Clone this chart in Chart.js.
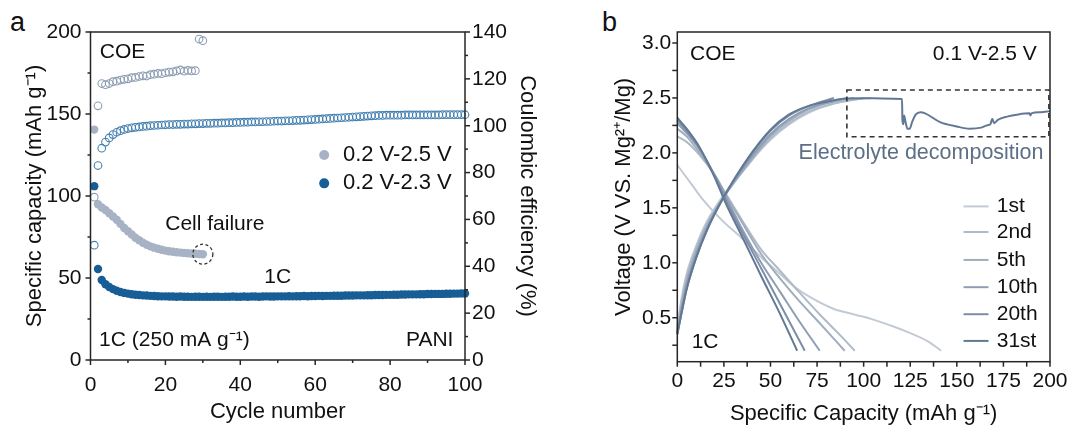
<!DOCTYPE html>
<html><head><meta charset="utf-8">
<script src="https://cdn.jsdelivr.net/npm/chart.js@4.4.1/dist/chart.umd.min.js"></script>
<style>
html,body{margin:0;padding:0;background:#fff;}
body{width:1069px;height:428px;position:relative;overflow:hidden;font-family:'Liberation Sans',Arial,sans-serif;}
.box{position:absolute;top:0;height:428px;}
#boxA{left:0;width:585px;}
#boxB{left:585px;width:484px;}
.plab{position:absolute;font-size:27px;color:#111;line-height:1;}
</style></head><body>
<div class="plab" style="left:10px;top:9px">a</div>
<div class="plab" style="left:602px;top:9px">b</div>
<div class="box" id="boxA"><canvas id="chartA"></canvas></div>
<div class="box" id="boxB"><canvas id="chartB"></canvas></div>
<script>
// ---------------- Panel a data ----------------
const capGrey = [140.5, 95, 93, 91.5, 89.5, 87.5, 85.5, 83, 80.5, 78.5,
  76.5, 74.5, 73, 71.5, 70.3, 69.3, 68.5, 67.8, 67.2, 66.7,
  66.3, 66, 65.7, 65.5, 65.3, 65.1, 64.9, 64.8, 64.6, 64.5];
const ceGrey = [69.5, 108.5, 118, 117.5, 118, 118.8, 119, 119.5, 119.8, 120,
  120.5, 120.6, 121, 121.3, 121.2, 121.8, 122, 122.3, 122.2, 122.6,
  122.9, 123, 123.4, 123.8, 123.3, 123.6, 123.4, 123.5, 137, 136.3];
const capBlue = [106, 55.5, 48.8, 46.2, 44.5, 43.2, 42.2, 41.5, 40.9, 40.5,
  40.1, 39.8, 39.6, 39.4, 39.3, 39.1, 39.0, 38.9, 38.8, 38.8,
  38.7, 38.7, 38.6, 38.7, 38.6, 38.6, 38.5, 38.6, 38.6, 38.5,
  38.6, 38.5, 38.6, 38.6, 38.5, 38.6, 38.6, 38.7, 38.6, 38.6,
  38.7, 38.6, 38.7, 38.7, 38.6, 38.7, 38.8, 38.7, 38.7, 38.8,
  38.8, 38.8, 38.9, 38.8, 38.9, 38.9, 39.0, 38.9, 39.0, 39.0,
  39.1, 39.0, 39.1, 39.1, 39.2, 39.2, 39.2, 39.3, 39.3, 39.3,
  39.4, 39.4, 39.4, 39.5, 39.5, 39.6, 39.6, 39.6, 39.7, 39.7,
  39.8, 39.8, 39.9, 39.9, 40.0, 40.0, 40.0, 40.1, 40.1, 40.2,
  40.2, 40.3, 40.3, 40.3, 40.4, 40.4, 40.5, 40.5, 40.6, 40.6];
const ceBlue = [49, 83, 90.4, 93, 94.8, 96.2, 97.2, 97.9, 98.4, 98.8,
  99.1, 99.3, 99.5, 99.7, 99.8, 100, 100.1, 100.2, 100.3, 100.4,
  100.5, 100.5, 100.6, 100.6, 100.7, 100.7, 100.8, 100.8, 100.9, 100.9,
  101.0, 101.0, 101.1, 101.1, 101.2, 101.2, 101.3, 101.3, 101.4, 101.4,
  101.5, 101.5, 101.6, 101.6, 101.7, 101.7, 101.8, 101.8, 101.9, 102.0,
  102.0, 102.1, 102.1, 102.2, 102.3, 102.3, 102.4, 102.5, 102.6, 102.7,
  102.8, 102.9, 103.0, 103.1, 103.2, 103.3, 103.4, 103.5, 103.6, 103.7,
  103.8, 103.9, 104.0, 104.1, 104.2, 104.3, 104.4, 104.4, 104.5, 104.5,
  104.5, 104.5, 104.5, 104.6, 104.6, 104.6, 104.6, 104.6, 104.6, 104.6,
  104.6, 104.6, 104.6, 104.7, 104.7, 104.7, 104.7, 104.7, 104.7, 104.7];
const aXTicks = [0, 20, 40, 60, 80, 100];
const aXMinor = [10, 30, 50, 70, 90];
const aYTicks = [0, 50, 100, 150, 200];
const aYMinor = [25, 75, 125, 175];
const aY2Ticks = [0, 20, 40, 60, 80, 100, 120, 140];
const aY2Minor = [10, 30, 50, 70, 90, 110, 130];

// ---------------- Panel b data ----------------
const cycleNames = ['1st', '2nd', '5th', '10th', '20th', '31st'];
const dis1Cap = [0, 7, 14, 25, 33, 45, 55, 63, 72, 84, 95, 104, 116, 125, 134, 141.6];
const dis1V   = [1.89, 1.73, 1.57, 1.37, 1.25, 1.05, 0.9, 0.78, 0.68, 0.58, 0.53, 0.49, 0.42, 0.36, 0.29, 0.2];
const dis2Cap = [0, 5, 12, 20, 26, 35, 45, 55, 65, 77, 88, 95.2];
const dis2V   = [2.15, 2.1, 1.98, 1.8, 1.63, 1.38, 1.12, 0.93, 0.74, 0.52, 0.33, 0.2];
const dis5Cap = [0, 5, 12, 20, 26, 35, 45, 55, 65, 77, 89.8];
const dis5V   = [2.22, 2.15, 2.0, 1.8, 1.62, 1.36, 1.08, 0.86, 0.66, 0.44, 0.2];
const dis10Cap = [0, 5, 12, 20, 26, 35, 45, 55, 65, 76.4];
const dis10V   = [2.27, 2.18, 2.03, 1.8, 1.6, 1.3, 1.0, 0.74, 0.48, 0.2];
const dis20Cap = [0, 5, 12, 20, 26, 35, 45, 55, 68.4];
const dis20V   = [2.3, 2.2, 2.04, 1.79, 1.57, 1.27, 0.95, 0.63, 0.2];
const dis31Cap = [0, 5, 12, 20, 26, 35, 45, 55, 64.3];
const dis31V   = [2.32, 2.22, 2.05, 1.78, 1.54, 1.23, 0.88, 0.54, 0.2];
const chg1Cap = [0, 2, 5, 10, 16, 25, 37, 50, 60, 71, 84, 97, 104];
const chg1V   = [0.4, 0.65, 0.9, 1.15, 1.38, 1.62, 1.88, 2.12, 2.26, 2.37, 2.45, 2.49, 2.5];
const chg2Cap = [0, 2, 5, 10, 16, 25, 37, 50, 60, 71, 84, 94, 100];
const chg2V   = [0.38, 0.62, 0.87, 1.13, 1.36, 1.6, 1.87, 2.13, 2.27, 2.38, 2.45, 2.48, 2.5];
const chg5Cap = [0, 2, 5, 10, 16, 25, 37, 50, 60, 71, 84, 95];
const chg5V   = [0.37, 0.58, 0.83, 1.1, 1.34, 1.6, 1.88, 2.15, 2.29, 2.4, 2.47, 2.5];
const chg10Cap = [0, 2, 5, 10, 16, 25, 37, 50, 60, 71, 84, 91];
const chg10V   = [0.36, 0.55, 0.8, 1.07, 1.32, 1.6, 1.9, 2.17, 2.31, 2.41, 2.47, 2.5];
const chg20Cap = [0, 2, 5, 10, 16, 25, 37, 50, 60, 71, 84];
const chg20V   = [0.35, 0.52, 0.76, 1.04, 1.3, 1.6, 1.92, 2.2, 2.34, 2.43, 2.5];
const chg31Cap = [0, 2, 5, 10, 16, 25, 37, 50, 60, 71, 84, 91, 100, 110, 120.6, 120.8, 121.3, 121.7, 122.5, 123.5, 124.7, 126, 128, 130.5, 133, 141, 150, 157, 163, 166, 168, 169, 170, 172, 177, 183, 189, 189.5, 190, 195, 200];
const chg31V   = [0.35, 0.52, 0.76, 1.04, 1.3, 1.6, 1.93, 2.21, 2.35, 2.43, 2.48, 2.495, 2.497, 2.496, 2.49, 2.3, 2.26, 2.34, 2.28, 2.22, 2.22, 2.28, 2.35, 2.37, 2.36, 2.28, 2.24, 2.22, 2.23, 2.25, 2.26, 2.31, 2.27, 2.3, 2.33, 2.35, 2.36, 2.34, 2.36, 2.37, 2.38];
const bXTicks = [0, 25, 50, 75, 100, 125, 150, 175, 200];
const bXMinor = [12.5, 37.5, 62.5, 87.5, 112.5, 137.5, 162.5, 187.5];
const bYTicks = [0.5, 1.0, 1.5, 2.0, 2.5, 3.0];
const bYMinor = [0.25, 0.75, 1.25, 1.75, 2.25, 2.75];

// ---------------- styles ----------------
const FONT = "'Liberation Sans', Arial, sans-serif";
Chart.defaults.font.family = FONT;
Chart.defaults.color = '#111';
const GREY = '#a7b3c4', GREY_O = '#8d9db2', BLUE = '#175e96', BLUE_O = '#4580b0';
const CYC_COLORS = ['#c2cad5', '#b0bbc9', '#9fadbe', '#8e9eb3', '#7c8ea7', '#627894'];
const TXT = '#111';

const pts = (xs, ys) => xs.map((x, i) => ({x: x, y: ys[i]}));
const byCycle = (arr) => arr.map((v, i) => ({x: i + 1, y: v}));

const decor = {
  id: 'decor',
  afterDraw(chart, args, o) {
    const ctx = chart.ctx, ca = chart.chartArea;
    ctx.save();
    ctx.strokeStyle = '#262626';
    ctx.lineWidth = 1.5;
    ctx.strokeRect(ca.left, ca.top, ca.right - ca.left, ca.bottom - ca.top);
    (o.ticks || []).forEach(t => {
      const s = chart.scales[t.scale];
      const draw = (vals, len) => vals.forEach(v => {
        const p = s.getPixelForValue(v);
        ctx.beginPath();
        if (t.side === 'left') { ctx.moveTo(ca.left, p); ctx.lineTo(ca.left - len, p); }
        else if (t.side === 'right') { ctx.moveTo(ca.right, p); ctx.lineTo(ca.right + len, p); }
        else { ctx.moveTo(p, ca.bottom); ctx.lineTo(p, ca.bottom + len); }
        ctx.stroke();
      });
      draw(t.major, o.majorLen);
      draw(t.minor, o.minorLen);
    });
    const xs = chart.scales.x, ys = chart.scales.y;
    (o.circles || []).forEach(c => {
      ctx.save();
      ctx.setLineDash([3, 2.5]);
      ctx.lineWidth = 1.3;
      ctx.strokeStyle = '#333';
      ctx.beginPath();
      ctx.arc(xs.getPixelForValue(c.x), ys.getPixelForValue(c.y), c.r, 0, Math.PI * 2);
      ctx.stroke();
      ctx.restore();
    });
    (o.boxes || []).forEach(b => {
      ctx.save();
      ctx.setLineDash([5, 4]);
      ctx.lineWidth = 1.6;
      ctx.strokeStyle = '#333';
      const x1 = xs.getPixelForValue(b.x1), x2 = xs.getPixelForValue(b.x2);
      const y1 = ys.getPixelForValue(b.y1), y2 = ys.getPixelForValue(b.y2);
      ctx.strokeRect(x1, y2, x2 - x1, y1 - y2);
      ctx.restore();
    });
    ctx.textBaseline = 'middle';
    (o.texts || []).forEach(t => {
      ctx.font = (t.size || 21) + 'px ' + FONT;
      ctx.fillStyle = t.color || TXT;
      ctx.textAlign = t.align || 'left';
      ctx.fillText(t.t, xs.getPixelForValue(t.x), ys.getPixelForValue(t.y));
    });
    (o.legend || []).forEach(l => {
      const ds = chart.data.datasets[l.ds];
      const py = ys.getPixelForValue(l.y);
      if (l.kind === 'point') {
        ctx.fillStyle = ds.backgroundColor;
        ctx.beginPath();
        ctx.arc(xs.getPixelForValue(l.x), py, l.r, 0, Math.PI * 2);
        ctx.fill();
      } else {
        ctx.strokeStyle = ds.borderColor;
        ctx.lineWidth = 2;
        ctx.beginPath();
        ctx.moveTo(xs.getPixelForValue(l.x), py);
        ctx.lineTo(xs.getPixelForValue(l.x2), py);
        ctx.stroke();
      }
      ctx.font = (l.size || 21) + 'px ' + FONT;
      ctx.fillStyle = TXT;
      ctx.textAlign = 'left';
      ctx.fillText(ds.label, xs.getPixelForValue(l.tx), py);
    });
    ctx.restore();
  }
};

const tickSet = (list) => (s) => { s.ticks = list.map(v => ({value: v})); };

// ---------------- Chart a ----------------
new Chart(document.getElementById('chartA'), {
  type: 'scatter',
  data: {datasets: [
    {label: '0.2 V-2.5 V', data: byCycle(capGrey), yAxisID: 'y', backgroundColor: GREY, borderColor: GREY,
     pointRadius: 4.2, pointBorderWidth: 0, clip: false, order: 2},
    {label: '0.2 V-2.3 V', data: byCycle(capBlue), yAxisID: 'y', backgroundColor: BLUE, borderColor: BLUE,
     pointRadius: 4.2, pointBorderWidth: 0, clip: false, order: 3},
    {label: 'CE 0.2 V-2.5 V', data: byCycle(ceGrey), yAxisID: 'y2', backgroundColor: 'rgba(255,255,255,0)',
     borderColor: GREY_O, pointRadius: 3.8, pointBorderWidth: 1.1, clip: false, order: 0},
    {label: 'CE 0.2 V-2.3 V', data: byCycle(ceBlue), yAxisID: 'y2', backgroundColor: 'rgba(255,255,255,0)',
     borderColor: BLUE_O, pointRadius: 3.8, pointBorderWidth: 1.1, clip: false, order: 1}
  ]},
  options: {
    responsive: true, maintainAspectRatio: false, animation: false, devicePixelRatio: 1, events: [],
    layout: {padding: {top: 32, left: 0, right: 0, bottom: 0}},
    plugins: {
      legend: {display: false}, tooltip: {enabled: false},
      decor: {
        majorLen: 5, minorLen: 3,
        ticks: [
          {scale: 'x', side: 'bottom', major: aXTicks, minor: aXMinor},
          {scale: 'y', side: 'left', major: aYTicks, minor: aYMinor},
          {scale: 'y2', side: 'right', major: aY2Ticks, minor: aY2Minor}
        ],
        circles: [{x: 30, y: 64.5, r: 10}],
        texts: [
          {t: 'COE', x: 2.5, y: 187.8},
          {t: '1C (250 mA g\u207B\u00B9)', x: 2.3, y: 12.2},
          {t: 'PANI', x: 96.9, y: 12.2, align: 'right'},
          {t: 'Cell failure', x: 33.2, y: 82.9, align: 'center'},
          {t: '1C', x: 50, y: 50.3, align: 'center'}
        ],
        legend: [
          {ds: 0, kind: 'point', x: 62.4, y: 125, r: 5, tx: 67.4, size: 22},
          {ds: 1, kind: 'point', x: 62.4, y: 107.7, r: 5, tx: 67.4, size: 22}
        ]
      }
    },
    scales: {
      x: {type: 'linear', min: 0, max: 100, position: 'bottom',
        grid: {display: false, drawTicks: false}, border: {display: false},
        afterBuildTicks: tickSet(aXTicks),
        afterFit: (s) => { s.height = 68; s.paddingLeft = 0; s.paddingRight = 0; },
        ticks: {padding: 12.5, font: {size: 21}, color: TXT, maxRotation: 0, autoSkip: false},
        title: {display: true, text: 'Cycle number', font: {size: 22}, color: TXT, padding: {top: 0, bottom: 2.8}}},
      y: {type: 'linear', min: 0, max: 200, position: 'left',
        grid: {display: false, drawTicks: false}, border: {display: false},
        afterBuildTicks: tickSet(aYTicks),
        afterFit: (s) => { s.width = 90.5; s.paddingTop = 0; s.paddingBottom = 0; },
        ticks: {padding: 9, font: {size: 21}, color: TXT, autoSkip: false},
        title: {display: true, text: 'Specific capacity (mAh g\u207B\u00B9)', font: {size: 22}, color: TXT, padding: {top: 21.8, bottom: 0}}},
      y2: {type: 'linear', min: 0, max: 140, position: 'right',
        grid: {display: false, drawTicks: false}, border: {display: false},
        afterBuildTicks: tickSet(aY2Ticks),
        afterFit: (s) => { s.width = 120; s.paddingTop = 0; s.paddingBottom = 0; },
        ticks: {padding: 7, font: {size: 21}, color: TXT, autoSkip: false},
        title: {display: true, text: 'Coulombic efficiency (%)', font: {size: 22}, color: TXT, padding: {top: 44.8, bottom: 0}}}
    }
  },
  plugins: [decor]
});

// ---------------- Chart b ----------------
const disCaps = [dis1Cap, dis2Cap, dis5Cap, dis10Cap, dis20Cap, dis31Cap];
const disVs = [dis1V, dis2V, dis5V, dis10V, dis20V, dis31V];
const chgCaps = [chg1Cap, chg2Cap, chg5Cap, chg10Cap, chg20Cap, chg31Cap];
const chgVs = [chg1V, chg2V, chg5V, chg10V, chg20V, chg31V];
const bSets = [];
cycleNames.forEach((n, i) => {
  const common = {showLine: true, pointRadius: 0, borderWidth: 2, borderColor: CYC_COLORS[i],
    backgroundColor: CYC_COLORS[i], cubicInterpolationMode: 'monotone', order: 10 - i, clip: false};
  bSets.push(Object.assign({label: n, data: pts(disCaps[i], disVs[i])}, common));
  bSets.push(Object.assign({label: n + ' charge', data: pts(chgCaps[i], chgVs[i])}, common));
});

new Chart(document.getElementById('chartB'), {
  type: 'scatter',
  data: {datasets: bSets},
  options: {
    responsive: true, maintainAspectRatio: false, animation: false, devicePixelRatio: 1, events: [],
    layout: {padding: {top: 32, left: 0, right: 19, bottom: 0}},
    plugins: {
      legend: {display: false}, tooltip: {enabled: false},
      decor: {
        majorLen: 5, minorLen: 5,
        ticks: [
          {scale: 'x', side: 'bottom', major: bXTicks, minor: bXMinor},
          {scale: 'y', side: 'left', major: bYTicks, minor: bYMinor}
        ],
        boxes: [{x1: 91, x2: 199.4, y1: 2.147, y2: 2.572}],
        texts: [
          {t: 'COE', x: 6.8, y: 2.9},
          {t: '0.1 V-2.5 V', x: 192.9, y: 2.9, align: 'right'},
          {t: 'Electrolyte decomposition', x: 130.8, y: 2.0, align: 'center', color: '#5d6f86', size: 21.5},
          {t: '1C', x: 7.7, y: 0.28}
        ],
        legend: [
          {ds: 0, kind: 'line', x: 153.6, x2: 167, y: 1.513, tx: 171.4},
          {ds: 2, kind: 'line', x: 153.6, x2: 167, y: 1.28, tx: 171.4},
          {ds: 4, kind: 'line', x: 153.6, x2: 167, y: 1.026, tx: 171.4},
          {ds: 6, kind: 'line', x: 153.6, x2: 167, y: 0.778, tx: 171.4},
          {ds: 8, kind: 'line', x: 153.6, x2: 167, y: 0.532, tx: 171.4},
          {ds: 10, kind: 'line', x: 153.6, x2: 167, y: 0.289, tx: 171.4}
        ]
      }
    },
    scales: {
      x: {type: 'linear', min: 0, max: 200, position: 'bottom',
        grid: {display: false, drawTicks: false}, border: {display: false},
        afterBuildTicks: tickSet(bXTicks),
        afterFit: (s) => { s.height = 66.3; s.paddingLeft = 0; s.paddingRight = 0; },
        ticks: {padding: 7, font: {size: 21}, color: TXT, maxRotation: 0, autoSkip: false},
        title: {display: true, text: 'Specific Capacity (mAh g\u207B\u00B9)', font: {size: 22}, color: TXT, padding: {top: 0, bottom: 0.8}}},
      y: {type: 'linear', min: 0.1, max: 3.1, position: 'left',
        grid: {display: false, drawTicks: false}, border: {display: false},
        afterBuildTicks: tickSet(bYTicks),
        afterFit: (s) => { s.width = 92.3; s.paddingTop = 0; s.paddingBottom = 0; },
        ticks: {padding: 6, font: {size: 21}, color: TXT, autoSkip: false, callback: (v) => v.toFixed(1)},
        title: {display: true, text: 'Voltage (V VS. Mg\u00B2\u207A/Mg)', font: {size: 22}, color: TXT, padding: {top: 25.8, bottom: 0}}}
    }
  },
  plugins: [decor]
});
</script>
</body></html>
